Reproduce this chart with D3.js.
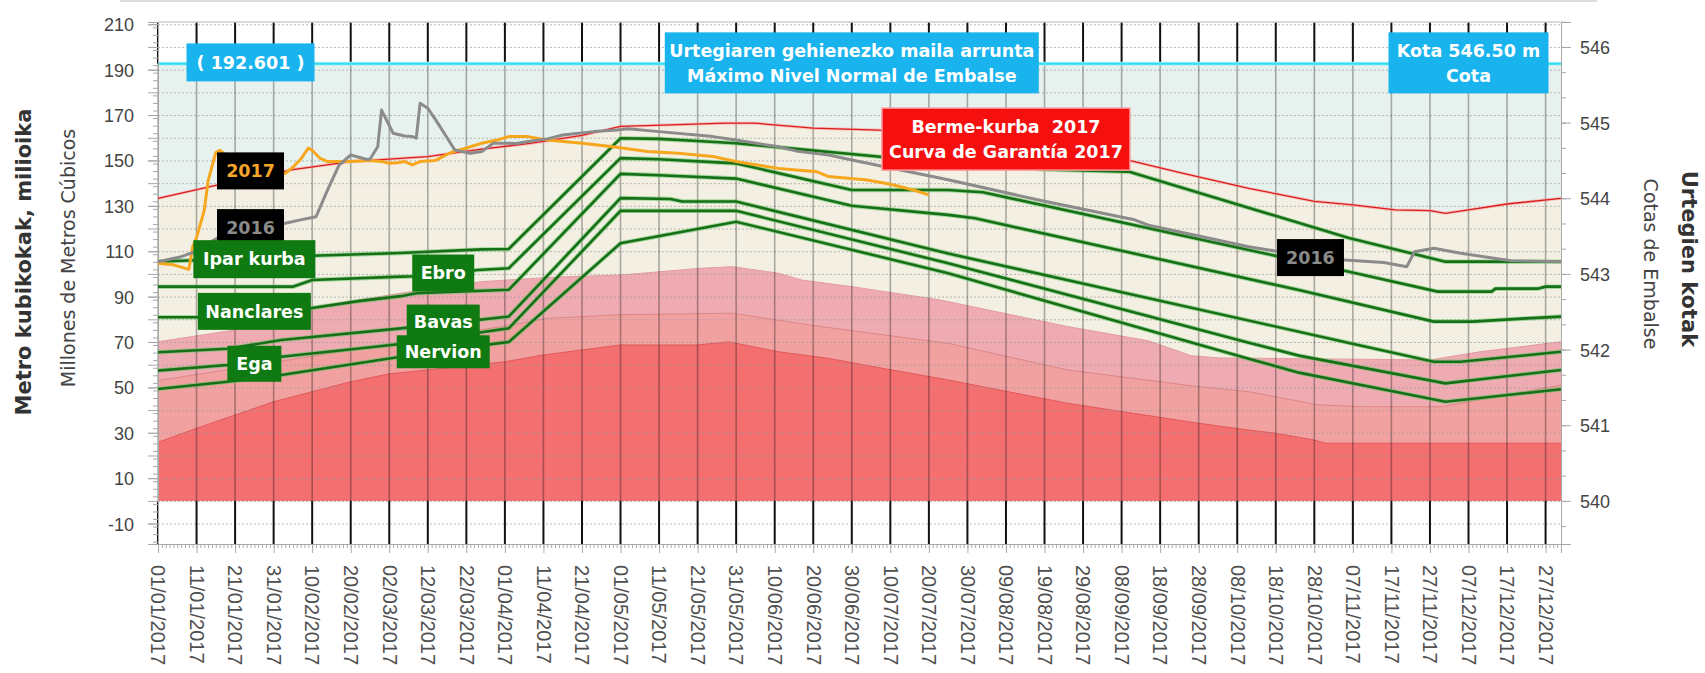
<!DOCTYPE html>
<html lang="es">
<head>
<meta charset="UTF-8">
<title>Urtegiaren kurbak 2017</title>
<script src="https://d3js.org/d3.v7.min.js"></script>
<style>
  body { margin: 0; background: #fff; overflow: hidden; }
  svg { display: block; font-family: 'DejaVu Sans', Verdana, sans-serif; }
  .axis text { font-size: 18px; fill: #444; }
  .axis.xlab text { font-size: 20px; fill: #505050; }
  .axis path, .axis line { stroke: #a8a8a8; }
  .box-text { font-weight: bold; font-size: 17.5px; fill: #fff; text-anchor: middle; white-space: pre; }
</style>
</head>
<body>
<svg id="chart" width="1705" height="673"></svg>
<script>
// ---- data (day of year 2017, millions of m3) ----
const xTickLabels = [
  "01/01/2017", "11/01/2017", "21/01/2017", "31/01/2017", "10/02/2017", "20/02/2017",
  "02/03/2017", "12/03/2017", "22/03/2017", "01/04/2017", "11/04/2017", "21/04/2017",
  "01/05/2017", "11/05/2017", "21/05/2017", "31/05/2017", "10/06/2017", "20/06/2017",
  "30/06/2017", "10/07/2017", "20/07/2017", "30/07/2017", "09/08/2017", "19/08/2017",
  "29/08/2017", "08/09/2017", "18/09/2017", "28/09/2017", "08/10/2017", "18/10/2017",
  "28/10/2017", "07/11/2017", "17/11/2017", "27/11/2017", "07/12/2017", "17/12/2017",
  "27/12/2017"
];
const yTicks = [-10, 10, 30, 50, 70, 90, 110, 130, 150, 170, 190, 210];
const cotaTicks = [540, 541, 542, 543, 544, 545, 546];
const maxLevel = 192.601;

// guarantee curve 2017 (red line)
const curvaGarantia = [[0,133.3],[15,139],[35,146],[50,149.5],[70,151.7],[84,155],[97,157.6],
  [110,161],[120,165],[131,165.6],[147,166.4],[155,166.4],[170,164.2],[187,163.4],[252,150],
  [266,144.3],[283,137.7],[300,132],[310,130.4],[321,128.2],[330,127.9],[334,126.7],[340,128.2],
  [350,130.8],[364,133.3]];

// background alert zones
const limiteRosa = [[0,70.1],[20,75.3],[41,85.6],[63,91.5],[84,96.6],[102,98.5],[120,99.5],
  [141,102.5],[149,103.2],[161,100.3],[167,97.3],[180,94.4],[203,88.5],[236,76.8],[257,70.5],
  [268,64],[275,63],[330,62.1],[343,65.7],[364,70.1]];
const limiteMedio = [[0,53],[30,61],[63,70],[90,77],[101,80.4],[120,82],[149,82.7],[171,77],
  [205,69.4],[236,57.7],[270,50.3],[283,48.1],[301,42.3],[313,41.5],[333,41.5],[347,45.9],[364,51]];
const limiteRojo = [[0,25.8],[10,32],[20,37.8],[30,43.7],[40,48.1],[50,52.5],[60,56],[70,57.7],
  [90,61.3],[100,64.3],[120,68.7],[140,68.7],[148,70.1],[161,65.7],[174,62.8],[188,58.4],
  [205,53.3],[236,43],[270,34.2],[283,31.2],[290,29.8],[300,26.8],[303,25.4],[364,25.4]];

// green operating curves
const curvaIpar = [[0,105.5],[20,106.6],[40,108],[63,109.2],[84,110.8],[91,111],[120,159.8],
  [130,159.5],[140,158.6],[150,157.6],[188,151.5],[230,146],[252,145],[309,115.8],[334,105.4],[364,105.4]];
const curvaEbro = [[0,94.4],[35,94.4],[40,97.3],[63,98.8],[67,99],[83,101.7],[91,102.5],[120,151],
  [130,150.5],[150,148.7],[180,137],[205,137],[214,136],[291,107.6],[309,101],[332,92.2],[346,92.2],
  [347,93.5],[358,93.5],[360,94.4],[364,94.4]];
const curvaNanclares = [[0,80.9],[11,80.9],[25,82.5],[40,85],[52,88],[63,90.2],[67,91.5],[91,93],
  [120,144.1],[130,143.5],[150,142],[180,130],[205,126],[212,124.5],[296,92.9],[331,79],[341,79],
  [355,80.4],[364,81.2]];
const curvaBavas = [[0,65.5],[18,67],[32,70.9],[63,76],[91,81.2],[120,133.4],[133,133],[136,131.9],
  [150,131.9],[205.5,109],[309,69.6],[331,61.3],[338,61.3],[364,65.7]];
const curvaEga = [[0,57.4],[18.7,59.9],[32,63.5],[63,69.1],[91,76],[120,127.8],[150,127.8],
  [205.5,104.7],[283,69.7],[296,64],[334,51.8],[364,57.7]];
const curvaNervion = [[0,49.3],[18.7,52.5],[32,55.5],[63,63.5],[88,69.4],[91,70],[120,113.5],
  [150,123],[205.5,100.3],[283,62.6],[296,56.5],[334,43.7],[364,49.2]];

// stored volume 2017 (orange) and 2016 (grey)
const volumen2017 = [[0,104.7],[4,104],[8,102],[9,112],[10,116],[12,128],[13.5,141],[15,153.5],
  [16,154.5],[18,152],[24,149],[30,145],[33,144.3],[35,147],[37,150.5],[39.4,155.4],[40.5,154.5],
  [42,151],[44,149.5],[50,149.5],[55,150],[58,149.5],[60,148.8],[62,149],[64,149.5],[66,148],
  [68,149.5],[72,150],[76,153.5],[80,155.5],[84,157.6],[88,159],[91,160.5],[96,160.5],[101,159],
  [110,157.6],[118,156],[127,153.9],[135,153.2],[144,151.7],[150,149.5],[153,148.7],[161,146.5],
  [171,145],[174,142.9],[184,141.4],[190,139.5],[196,137],[200,134.8]];
const volumen2016 = [[0,105.4],[3,106.5],[6.6,107.6],[10,110],[13.5,113.5],[16.5,116.4],[20,118.5],
  [25,120.5],[30,121.5],[33.4,122.3],[37.7,123.8],[41.2,125.2],[44.6,137],[47.2,148],[48.1,149.5],
  [50.7,152.4],[54,150.5],[55.5,150.5],[57,156],[58.5,172.2],[61,162],[64,160.8],[66,160.5],
  [67,159.8],[68.8,175.2],[70,173],[72.3,168],[75,160],[77.5,154.6],[81.8,153.2],[84.4,153.9],
  [87.9,157.6],[93,157.5],[96.5,158.3],[101.7,159.5],[105,161.2],[113.8,162.7],[119,163.4],
  [122.5,164],[130,162.7],[144,160.5],[150.6,159],[161.4,156],[166.6,154],[174.4,152.4],
  [180.4,150.2],[205.5,141.5],[230,132],[253,124],[257,121.5],[283,112],[291,109.8],[300,107.5],
  [308.6,106.1],[318,105],[324.9,103.2],[326,109.8],[331.8,111.3],[338.7,109.1],[351.7,105.8],[364,105.4]];

// ---- scales ----
const day0 = new Date(2017, 0, 1);
const toDate = d => d3.timeDay.offset(day0, d);
const parseTick = d3.timeParse("%d/%m/%Y");
const tickDates = xTickLabels.map(parseTick);

const x = d3.scaleTime().domain([day0, new Date(2017, 11, 31)]).range([158, 1561]);
const y = d3.scaleLinear().domain([-19, 211]).range([544, 22]);
// 200 million m3 <-> 6 m of level, 0 <-> 540 m
const yCota = d3.scaleLinear().domain([540 - 19 * 0.03, 540 + 211 * 0.03]).range([544, 22]);

const svg = d3.select("#chart");
const [x0, x1] = x.range();
const [yBottom, yTop] = y.range();

// thin separator at the very top of the page
svg.append("line").attr("x1", 120).attr("x2", 1597).attr("y1", 1).attr("y2", 1)
  .attr("stroke", "#dcdcdc").attr("stroke-width", 2);

// ---- zone fills (painted from top zone down) ----
const areaGen = d3.area().x(d => x(toDate(d[0]))).y0(y(0)).y1(d => y(d[1]));
const lineGen = d3.line().x(d => x(toDate(d[0]))).y(d => y(d[1]));

const bands = [
  { data: [[0, maxLevel], [364, maxLevel]], fill: "#e7f2ee", stroke: "none" },
  { data: curvaGarantia, fill: "#f3efe3", stroke: "none" },
  { data: limiteRosa, fill: "#eeabb2", stroke: "#e49ba3" },
  { data: limiteMedio, fill: "#f2a1a1", stroke: "#dc8787" },
  { data: limiteRojo, fill: "#f36f70", stroke: "#df5b5c" }
];
const gBands = svg.append("g");
bands.forEach(b => {
  gBands.append("path").attr("d", areaGen(b.data)).attr("fill", b.fill);
  if (b.stroke !== "none") {
    gBands.append("path").attr("d", lineGen(b.data)).attr("fill", "none")
      .attr("stroke", b.stroke).attr("stroke-width", 1);
  }
});

// ---- grid ----
const gGrid = svg.append("g");
gGrid.selectAll("line.hgrid").data(d3.range(-10, 211, 10)).join("line")
  .attr("class", "hgrid")
  .attr("x1", x0).attr("x2", x1)
  .attr("y1", d => y(d) + 0.5).attr("y2", d => y(d) + 0.5)
  .attr("stroke", "#9c9c9c").attr("stroke-opacity", 0.7)
  .attr("stroke-dasharray", "2,2");

gGrid.selectAll("line.vtop").data(tickDates).join("line")
  .attr("class", "vtop")
  .attr("x1", d => x(d)).attr("x2", d => x(d))
  .attr("y1", yTop).attr("y2", y(maxLevel))
  .attr("stroke", "#111").attr("stroke-width", 2);
gGrid.selectAll("line.vmid").data(tickDates).join("line")
  .attr("class", "vmid")
  .attr("x1", d => x(d)).attr("x2", d => x(d))
  .attr("y1", y(maxLevel)).attr("y2", y(0))
  .attr("stroke", "#000").attr("stroke-opacity", 0.3).attr("stroke-width", 1.6);
gGrid.selectAll("line.vbot").data(tickDates).join("line")
  .attr("class", "vbot")
  .attr("x1", d => x(d)).attr("x2", d => x(d))
  .attr("y1", y(0)).attr("y2", yBottom)
  .attr("stroke", "#111").attr("stroke-width", 2);
gGrid.append("line").attr("x1", x0).attr("x2", x1).attr("y1", yTop).attr("y2", yTop)
  .attr("stroke", "#cfcfcf").attr("stroke-width", 1.5);

// maximum normal level (cyan)
svg.append("line").attr("x1", x0).attr("x2", x1)
  .attr("y1", y(maxLevel)).attr("y2", y(maxLevel))
  .attr("stroke", "#a8f2f8").attr("stroke-width", 4);
svg.append("line").attr("x1", x0).attr("x2", x1)
  .attr("y1", y(maxLevel)).attr("y2", y(maxLevel))
  .attr("stroke", "#35dcee").attr("stroke-width", 1.8);

// ---- axes ----
const minorY = d3.range(-18, 211, 10 / 3).map(v => Math.round(v * 1000) / 1000);
svg.append("g").attr("class", "axis").attr("transform", `translate(${x0},0)`)
  .call(d3.axisLeft(y).tickValues(minorY).tickSize(5).tickFormat(""));
svg.append("g").attr("class", "axis").attr("transform", `translate(${x0},0)`)
  .call(d3.axisLeft(y).tickValues(d3.range(-10, 211, 10)).tickSize(10).tickFormat(""));
svg.append("g").attr("class", "axis").attr("transform", `translate(${x0},0)`)
  .call(d3.axisLeft(y).tickValues(yTicks).tickSize(10).tickPadding(14).tickFormat(d => String(d)))
  .call(g => g.selectAll("text").attr("dy", "0.36em"));

svg.append("g").attr("class", "axis").attr("transform", `translate(${x1},0)`)
  .call(d3.axisRight(yCota).tickValues(d3.range(539.667, 546.4, 1 / 3)).tickSize(5).tickFormat(""));
svg.append("g").attr("class", "axis").attr("transform", `translate(${x1},0)`)
  .call(d3.axisRight(yCota).tickValues(cotaTicks).tickSize(10).tickPadding(9).tickFormat(d => String(d)))
  .call(g => g.selectAll("text").attr("dy", "0.36em"));

svg.append("g").attr("class", "axis").attr("transform", `translate(0,${yBottom})`)
  .call(d3.axisBottom(x).ticks(d3.timeDay.every(1)).tickSize(4).tickFormat(""));
svg.append("g").attr("class", "axis xlab").attr("transform", `translate(0,${yBottom})`)
  .call(d3.axisBottom(x).tickValues(tickDates).tickSize(9).tickFormat((d, i) => xTickLabels[i]))
  .call(g => g.selectAll("text")
    .attr("transform", "rotate(90)")
    .attr("x", 21).attr("y", 0).attr("dy", "0.36em")
    .style("text-anchor", "start"));

// axis titles
svg.append("text").attr("transform", "translate(31,262) rotate(-90)")
  .attr("text-anchor", "middle").attr("font-size", 21).attr("font-weight", "bold").attr("fill", "#333")
  .text("Metro kubikokak, milioika");
svg.append("text").attr("transform", "translate(75,258) rotate(-90)")
  .attr("text-anchor", "middle").attr("font-size", 19).attr("fill", "#444")
  .text("Millones de Metros Cúbicos");
svg.append("text").attr("transform", "translate(1682,259) rotate(90)")
  .attr("text-anchor", "middle").attr("font-size", 21).attr("font-weight", "bold").attr("fill", "#333")
  .text("Urtegien kotak");
svg.append("text").attr("transform", "translate(1644,264) rotate(90)")
  .attr("text-anchor", "middle").attr("font-size", 19).attr("fill", "#444")
  .text("Cotas de Embalse");

// ---- series lines ----
svg.append("path").attr("d", lineGen(curvaGarantia)).attr("fill", "none")
  .attr("stroke", "#ff9b9b").attr("stroke-width", 3).attr("stroke-opacity", 0.6);
svg.append("path").attr("d", lineGen(curvaGarantia)).attr("fill", "none")
  .attr("stroke", "#d81e1e").attr("stroke-width", 1.3);

const greenCurves = [curvaIpar, curvaEbro, curvaNanclares, curvaBavas, curvaEga, curvaNervion];
const gGreen = svg.append("g");
greenCurves.forEach(c => {
  gGreen.append("path").attr("d", lineGen(c)).attr("fill", "none")
    .attr("stroke", "#62c462").attr("stroke-width", 4.5).attr("stroke-opacity", 0.55);
  gGreen.append("path").attr("d", lineGen(c)).attr("fill", "none")
    .attr("stroke", "#176f17").attr("stroke-width", 2.6);
});

svg.append("path").attr("d", lineGen(volumen2017)).attr("fill", "none")
  .attr("stroke", "#f6a71e").attr("stroke-width", 3).attr("stroke-linejoin", "round");
svg.append("path").attr("d", lineGen(volumen2016)).attr("fill", "none")
  .attr("stroke", "#8b8b8b").attr("stroke-width", 3).attr("stroke-linejoin", "round");

// ---- annotation boxes: anchored at (day, value), size in px ----
const annotations = [
  { day: 24.9, v: 193.2, w: 128, h: 38, bg: "#19b4ee", color: "#fff", lines: ["( 192.601 )"] },
  { day: 180.1, v: 193.0, w: 374, h: 61, bg: "#19b4ee", color: "#fff",
    lines: ["Urtegiaren gehienezko maila arrunta", "Máximo Nivel Normal de Embalse"] },
  { day: 340, v: 193.0, w: 160, h: 61, bg: "#19b4ee", color: "#fff", lines: ["Kota 546.50 m", "Cota"] },
  { day: 220, v: 159.4, w: 248, h: 62, bg: "#f50f0f", color: "#fff", border: "#ff9c9c",
    lines: ["Berme-kurba  2017", "Curva de Garantía 2017"] },
  { day: 24.8, v: 145.4, w: 67, h: 37, bg: "#000", color: "#f4a52a", lines: ["2017"] },
  { day: 24.9, v: 120.4, w: 67, h: 37, bg: "#000", color: "#8a8a8a", lines: ["2016"] },
  { day: 299.9, v: 107.2, w: 67, h: 37, bg: "#000", color: "#8a8a8a", lines: ["2016"] },
  { day: 25.2, v: 106.5, w: 122, h: 38, bg: "#107a12", color: "#fff", lines: ["Ipar kurba"] },
  { day: 25.2, v: 83.5, w: 113, h: 37, bg: "#107a12", color: "#fff", lines: ["Nanclares"] },
  { day: 25.2, v: 60.4, w: 54, h: 36, bg: "#107a12", color: "#fff", lines: ["Ega"] },
  { day: 74.8, v: 100.4, w: 62, h: 37, bg: "#107a12", color: "#fff", lines: ["Ebro"] },
  { day: 74.9, v: 79.0, w: 73, h: 34, bg: "#107a12", color: "#fff", lines: ["Bavas"] },
  { day: 74.9, v: 65.7, w: 93, h: 33, bg: "#107a12", color: "#fff", lines: ["Nervion"] }
];
const gAnn = svg.append("g");
annotations.forEach(a => {
  const cx = x(toDate(a.day)), cy = y(a.v);
  gAnn.append("rect")
    .attr("x", cx - a.w / 2).attr("y", cy - a.h / 2)
    .attr("width", a.w).attr("height", a.h)
    .attr("fill", a.bg)
    .attr("stroke", a.border || "none").attr("stroke-width", a.border ? 1.5 : 0);
  const step = 25;
  const first = cy - (a.lines.length - 1) * step / 2;
  a.lines.forEach((t, i) => {
    gAnn.append("text").attr("class", "box-text")
      .attr("x", cx).attr("y", first + i * step).attr("dy", "0.36em")
      .style("fill", a.color)
      .text(t);
  });
});
</script>
</body>
</html>
